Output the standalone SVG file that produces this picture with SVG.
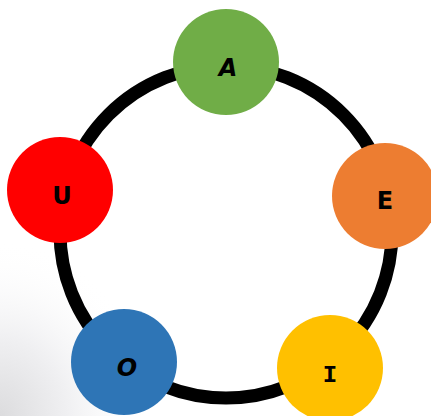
<svg xmlns="http://www.w3.org/2000/svg" width="431" height="416" viewBox="0 0 431 416">
  <defs>
    <radialGradient id="shade" cx="0" cy="1" r="1">
      <stop offset="0" stop-color="#dcdcde"/>
      <stop offset="0.45" stop-color="#f0f0f2"/>
      <stop offset="1" stop-color="#ffffff" stop-opacity="0"/>
    </radialGradient>
    <style>
      .node circle { stroke: none; }
      .node text { font-family: "Comic Sans MS", "DejaVu Sans", "Liberation Sans", sans-serif; font-weight: bold; font-size: 24px; fill: #000; text-anchor: middle; }
      .node text.slab { font-family: "Liberation Mono", "DejaVu Sans Mono", monospace; }
      .ring { fill: none; stroke: #000; stroke-width: 13; }
    </style>
  </defs>
  <rect width="431" height="416" fill="#ffffff"/>
  <rect x="0" y="240" width="150" height="176" fill="url(#shade)"/>
  <g id="connectors">
    <circle class="ring" cx="226" cy="232" r="166"/>
  </g>
  <g id="node-A" class="node">
    <circle cx="226" cy="62" r="53" fill="#70ad47"/>
    <text x="228" y="76" font-style="italic">A</text>
  </g>
  <g id="node-E" class="node">
    <circle cx="385" cy="196" r="53" fill="#ed7d31"/>
    <text x="385" y="209">E</text>
  </g>
  <g id="node-I" class="node">
    <circle cx="330" cy="368" r="53" fill="#ffc000"/>
    <text class="slab" x="330" y="382">I</text>
  </g>
  <g id="node-O" class="node">
    <circle cx="124" cy="362" r="53" fill="#2e75b6"/>
    <text x="127" y="376" font-style="italic">O</text>
  </g>
  <g id="node-U" class="node">
    <circle cx="60" cy="190" r="53" fill="#ff0000"/>
    <text x="62" y="204">U</text>
  </g>
</svg>
